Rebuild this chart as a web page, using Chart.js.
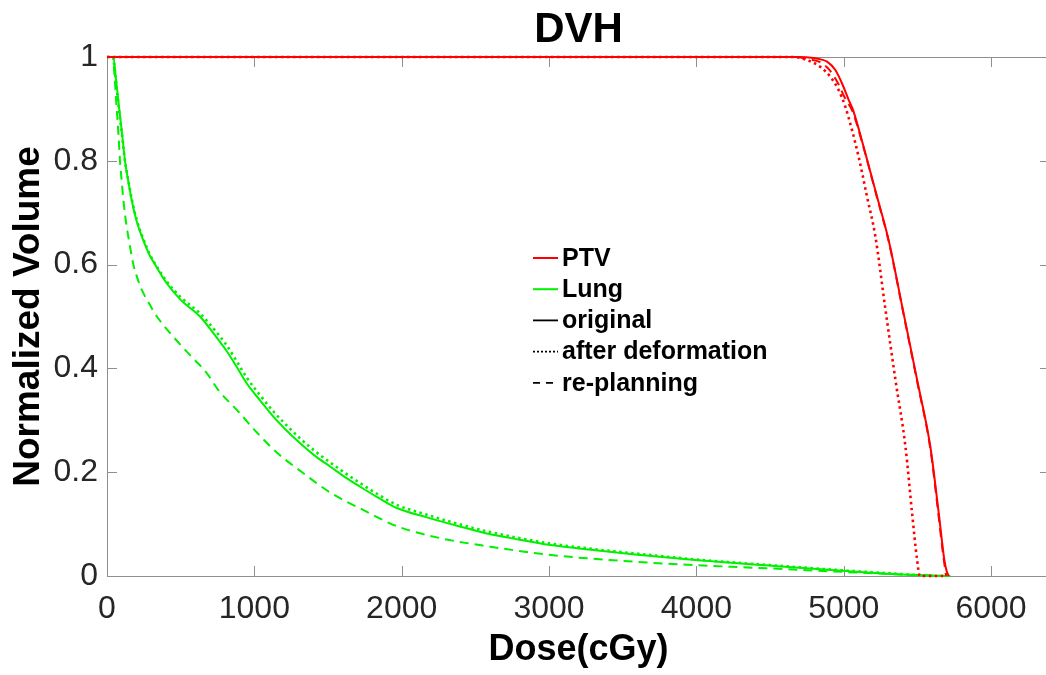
<!DOCTYPE html>
<html><head><meta charset="utf-8">
<script src="https://cdn.jsdelivr.net/npm/chart.js@4.4.1/dist/chart.umd.min.js"></script>
<style>
html,body{margin:0;padding:0;background:#fff;overflow:hidden;width:1046px;height:675px}
#wrap{position:absolute;left:0;top:0;width:1056px;height:675px}
</style>
</head><body><div id="wrap"><canvas id="c" width="1056" height="675"></canvas></div>
<script>
// ---- data (dose cGy, normalized volume) ----
const xTicks = [0, 1000, 2000, 3000, 4000, 5000, 6000];
const yTicks = [0, 0.2, 0.4, 0.6, 0.8, 1];
const legendLabels = ['PTV', 'Lung', 'original', 'after deformation', 're-planning'];

const ptvOriginal = [[0,1],[4700,1],[4795,0.998],[4850,0.995],[4887,0.991],[4943,0.975],[4989,0.949],[5034,0.917],[5063,0.898],[5135,0.827],[5226,0.731],[5305,0.647],[5400,0.515],[5498,0.378],[5588,0.249],[5645,0.121],[5683,0.031],[5700,0.008],[5713,0]];
const ptvDeformed = [[0,1],[4660,1],[4751,0.994],[4841,0.981],[4909,0.962],[4966,0.936],[5011,0.904],[5101,0.808],[5158,0.731],[5215,0.654],[5280,0.52],[5351,0.378],[5419,0.249],[5464,0.121],[5498,0.031],[5516,0],[5700,0]];
const ptvReplan = [[0,1],[4680,1],[4760,0.996],[4840,0.99],[4900,0.976],[4960,0.95],[5010,0.92],[5060,0.895],[5135,0.825],[5226,0.729],[5305,0.645],[5400,0.513],[5498,0.375],[5588,0.245],[5640,0.125],[5675,0.04],[5695,0]];

const lungOriginal = [[0,1],[43,1],[60,0.96],[83,0.90],[103,0.85],[122,0.80],[145,0.76],[167,0.725],[200,0.685],[246,0.647],[286,0.62],[326,0.60],[405,0.564],[500,0.532],[631,0.50],[722,0.468],[813,0.433],[880,0.403],[949,0.371],[1040,0.338],[1129,0.307],[1220,0.28],[1311,0.256],[1410,0.232],[1514,0.211],[1618,0.19],[1718,0.172],[1840,0.151],[1967,0.131],[2171,0.113],[2400,0.095],[2578,0.082],[2800,0.070],[2997,0.060],[3300,0.050],[3600,0.041],[3993,0.031],[4500,0.020],[4989,0.010],[5385,0.003],[5724,0]];
const lungDeformed = [[0,1],[40,1],[58,0.96],[81,0.90],[102,0.85],[122,0.80],[146,0.76],[169,0.725],[203,0.685],[250,0.647],[290,0.62],[330,0.60],[410,0.566],[505,0.536],[631,0.506],[722,0.477],[813,0.444],[880,0.414],[949,0.382],[1040,0.348],[1129,0.317],[1220,0.290],[1311,0.265],[1410,0.241],[1514,0.219],[1618,0.198],[1718,0.179],[1840,0.157],[1967,0.137],[2171,0.118],[2400,0.099],[2578,0.086],[2800,0.073],[2997,0.063],[3300,0.052],[3600,0.043],[3993,0.032],[4500,0.021],[4989,0.011],[5385,0.004],[5600,0]];
const lungReplan = [[0,1],[40,1],[52,0.96],[66,0.90],[78,0.85],[88,0.80],[100,0.76],[111,0.725],[130,0.68],[150,0.645],[179,0.60],[205,0.575],[230,0.555],[260,0.538],[290,0.523],[320,0.508],[370,0.488],[428,0.468],[500,0.445],[586,0.419],[680,0.39],[756,0.358],[881,0.32],[1016,0.277],[1152,0.238],[1333,0.198],[1514,0.161],[1741,0.127],[1967,0.096],[2261,0.073],[2601,0.0565],[2997,0.041],[3500,0.029],[3993,0.021],[4479,0.0148],[4989,0.008],[5385,0.003],[5690,0]];

const RED = '#ff0000', GREEN = '#00f000';
const DOT = [2.5, 3.5], DASH = [9, 6];
const AXIS = '#8f8f8f', TXT = '#262626';

const pts = arr => arr.map(([x, y]) => ({x, y}));
function ds(arr, color, dash) {
  return {data: pts(arr), borderColor: color, backgroundColor: color,
    borderWidth: dash === DOT ? 2.6 : 2, borderDash: dash, pointRadius: 0, fill: false,
    clip: 4, cubicInterpolationMode: 'monotone'};
}

Chart.defaults.font.family = "'Liberation Sans', Arial, Helvetica, sans-serif";

const axesBox = {
  id: 'axesBox',
  beforeDatasetsDraw(chart) {
    const {ctx, chartArea: a, scales: {x, y}} = chart;
    ctx.save();
    ctx.strokeStyle = AXIS; ctx.lineWidth = 1;
    ctx.strokeRect(a.left + 0.5, a.top + 0.5, a.right - a.left, a.bottom - a.top);
    ctx.beginPath();
    x.ticks.forEach(t => {
      const px = Math.round(x.getPixelForValue(t.value)) + 0.5;
      ctx.moveTo(px, a.bottom); ctx.lineTo(px, a.bottom - 10);
      ctx.moveTo(px, a.top); ctx.lineTo(px, a.top + 10);
    });
    y.ticks.forEach(t => {
      const py = Math.round(y.getPixelForValue(t.value)) + 0.5;
      ctx.moveTo(a.left, py); ctx.lineTo(a.left + 10, py);
      ctx.moveTo(a.right, py); ctx.lineTo(a.right - 10, py);
    });
    ctx.stroke();
    ctx.restore();
  }
};

const legendBox = {
  id: 'legendBox',
  afterDraw(chart) {
    const {ctx} = chart;
    const styles = [[RED, []], [GREEN, []], ['#000', []], ['#000', [2, 2]], ['#000', [7, 6]]];
    const x0 = 533, x1 = 558, tx = 562, y0 = 258, dy = 31.2;
    ctx.save();
    ctx.font = "bold 25px 'Liberation Sans', Arial, sans-serif";
    ctx.textBaseline = 'middle'; ctx.textAlign = 'left';
    legendLabels.forEach((lab, i) => {
      const yy = y0 + i * dy;
      ctx.strokeStyle = styles[i][0]; ctx.lineWidth = i < 2 ? 2 : 1.8;
      ctx.setLineDash(styles[i][1]);
      ctx.beginPath(); ctx.moveTo(x0, yy); ctx.lineTo(x1, yy); ctx.stroke();
      ctx.setLineDash([]);
      ctx.fillStyle = '#000';
      ctx.fillText(lab, tx, yy + 1);
    });
    ctx.restore();
  }
};

new Chart(document.getElementById('c'), {
  type: 'line',
  data: {
    datasets: [
      ds(ptvOriginal, RED, []),
      ds(ptvDeformed, RED, DOT),
      ds(ptvReplan, RED, DASH),
      ds(lungOriginal, GREEN, []),
      ds(lungDeformed, GREEN, DOT),
      ds(lungReplan, GREEN, DASH)
    ]
  },
  options: {
    responsive: false,
    animation: false,
    devicePixelRatio: 1,
    layout: {padding: {left: 0, right: 6, top: 0, bottom: 0}},
    plugins: {
      legend: {display: false},
      tooltip: {enabled: false},
      title: {display: false}
    },
    scales: {
      x: {
        type: 'linear', min: 0, max: 6400,
        afterBuildTicks: s => { s.ticks = xTicks.map(v => ({value: v})); },
        afterFit: s => { s.height = 99; },
        grid: {display: false, drawTicks: false},
        border: {display: false},
        ticks: {color: TXT, font: {size: 32}, padding: 14, maxRotation: 0,
          callback: v => String(v)},
        title: {display: true, text: 'Dose(cGy)', color: '#000',
          font: {size: 36, weight: 'bold'}, padding: {top: 0, bottom: 3}}
      },
      x2: {
        type: 'linear', position: 'top', min: 0, max: 6400,
        afterFit: s => { s.height = 57; },
        grid: {display: false, drawTicks: false},
        border: {display: false},
        ticks: {display: false},
        title: {display: true, text: 'DVH', color: '#000',
          font: {size: 42, weight: 'bold'}, padding: {top: 5, bottom: 0}}
      },
      y: {
        type: 'linear', min: 0, max: 1,
        afterBuildTicks: s => { s.ticks = yTicks.map(v => ({value: v})); },
        afterFit: s => { s.width = 107; },
        grid: {display: false, drawTicks: false},
        border: {display: false},
        ticks: {color: TXT, font: {size: 32}, padding: 9, callback: v => String(v)},
        title: {display: true, text: 'Normalized Volume', color: '#000',
          font: {size: 37, weight: 'bold'}, padding: {top: 7, bottom: 0}}
      }
    }
  },
  plugins: [axesBox, legendBox]
});
</script>
</body></html>
